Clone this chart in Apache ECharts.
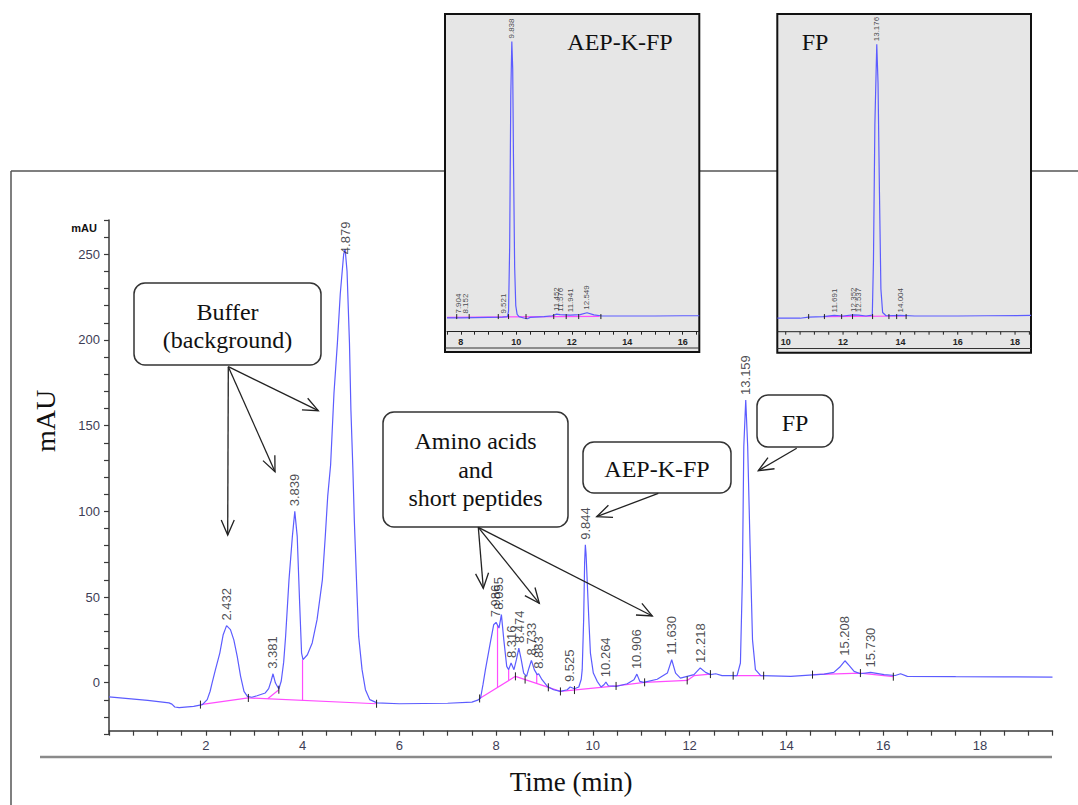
<!DOCTYPE html>
<html><head><meta charset="utf-8">
<script src="https://cdn.jsdelivr.net/npm/echarts@6/dist/echarts.min.js"></script>
<style>html,body{margin:0;padding:0;background:#fff}#c{width:1078px;height:805px}</style>
</head><body><div id="c"></div>
<script>
// ================= DATA =================
// main chromatogram: [time (min), signal (mAU)]
const mainTrace = [
 [0,-8.3],[0.4,-9.3],[0.8,-10.3],[1.24,-11.8],[1.30,-12.5],[1.36,-14.2],[1.45,-14.6],[1.75,-13.8],[1.93,-12.8],
 [2.03,-9.9],[2.09,-5],[2.13,-0.2],[2.2,7.6],[2.29,17.3],[2.36,28],[2.43,33.3],[2.51,31],[2.58,25],[2.65,15.3],
 [2.72,3.7],[2.79,-5.1],[2.86,-8.0],[2.95,-8.5],[3.06,-7.6],[3.23,-6],[3.30,-3.5],[3.35,1],[3.39,5.2],[3.44,-0.2],
 [3.51,-3.7],[3.56,1],[3.61,12],[3.65,27],[3.72,60],[3.79,85.4],[3.84,100],[3.89,85.4],[3.94,46.5],[3.98,17.3],
 [4.01,13.4],[4.10,16.3],[4.2,23.2],[4.30,36.8],[4.41,60],[4.47,85.4],[4.52,108.7],[4.58,127],[4.65,169],[4.72,198],
 [4.78,227],[4.85,250],[4.88,253],[4.92,240],[4.97,198],[5.0,159],[5.04,125],[5.07,95],[5.12,56],[5.16,27],
 [5.23,7.6],[5.30,-4.1],[5.39,-9.9],[5.54,-11.8],[6.0,-12.3],[7.0,-12.0],[7.5,-11.3],[7.62,-10.2],[7.68,-8.9],
 [7.73,-1],[7.78,7.6],[7.88,23.2],[7.95,33.8],[8.0,35.2],[8.06,31.9],[8.11,39.7],[8.16,25],[8.22,9.5],[8.26,7.6],
 [8.31,11.5],[8.37,7.6],[8.42,13.4],[8.47,20.2],[8.52,13.4],[8.57,5.6],[8.63,3.7],[8.68,8.6],[8.73,13],[8.79,7.6],
 [8.85,4.7],[8.88,5.2],[8.95,1.75],[9.06,-2.2],[9.19,-4.1],[9.33,-5.1],[9.47,-4.1],[9.53,-2.5],[9.62,-3.5],
 [9.71,-2.5],[9.76,2],[9.78,7.6],[9.81,36.8],[9.83,70],[9.845,80.5],[9.86,75],[9.89,55],[9.92,35],[9.95,17.3],
 [10.01,5.6],[10.09,0.8],[10.17,-2.5],[10.23,-1.2],[10.27,0.3],[10.32,-1.8],[10.5,-2.1],[10.71,-0.6],[10.85,1.75],
 [10.91,5],[10.97,0.8],[11.05,0.2],[11.33,2],[11.54,5.6],[11.63,13.4],[11.71,5.6],[11.81,2.7],[12.09,4.7],
 [12.22,8.6],[12.33,6],[12.43,4.7],[12.54,5.2],[12.67,4.1],[12.98,4.1],[13.05,11.5],[13.09,60],[13.12,138],
 [13.16,165],[13.2,138],[13.25,79.5],[13.3,25],[13.36,7.6],[13.47,4.1],[14.09,3.7],[14.78,5],[14.98,6],[15.1,9],
 [15.21,12.8],[15.3,10],[15.40,6.6],[15.53,5.2],[15.74,6],[16.02,4.7],[16.25,4.2],[16.36,5.2],[16.5,3.7],
 [17.5,3.5],[18.5,3.4],[19.5,3.3]
];
// integration baselines (pink)
const baseSeg1 = [[1.89,-12.8],[2.88,-8.9]];
const baseSeg2 = [[2.88,-8.9],[5.53,-12.3]];
const baseSeg3 = [[3.28,-9.4],[3.51,-4.1]];
const baseSeg4 = [[7.66,-9.2],[8.40,3.7],[9.33,-5.1]];
const baseSeg5 = [[9.33,-5.1],[10.48,-1.9],[11.07,0.2],[11.95,1.3],[12.09,4.1],[12.43,5.0]];
const baseSeg6 = [[12.9,4.1],[13.53,4.1]];
const baseSeg7 = [[14.54,4.7],[15.53,5.6],[16.21,3.5]];
// drop lines: time, baseline level, signal level
const dropTimes = [4.0, 8.03, 8.26, 8.84];
const dropLow   = [-10.3, -2.6, 1.5, -0.5];
const dropHigh  = [13.4, 33.5, 7.8, 5.0];
// integration event ticks: [time, level]
const eventTicks = [[1.89,-12.8],[2.88,-8.9],[3.51,-4.1],[5.53,-12.3],[7.66,-9.2],[8.40,3.7],[8.6,1.8],[9.08,-2.7],
 [9.33,-5.1],[9.62,-4.3],[10.48,-1.9],[11.07,0.2],[11.95,1.3],[12.43,5.0],[12.9,4.1],[13.53,4.1],[14.54,4.7],
 [15.53,5.6],[16.21,3.5]];
// peak labels
const peakNames   = ['2.432','3.381','3.839','4.879','7.986','8.055','8.316','8.474','8.733','8.883','9.525','9.844','10.264','10.906','11.630','12.218','13.159','15.208','15.730'];
const peakHeights = [33.3, 5.2, 100, 253, 35.2, 39.7, 11.5, 20.2, 13, 5.2, -2.5, 80.5, 0.3, 5, 13.4, 8.6, 165, 12.8, 6];

// inset 1 (AEP-K-FP) relative signal
const inset1Trace = [[7.5,-0.5],[8.0,-0.5],[8.5,-0.4],[9.0,-0.3],[9.5,-0.2],[9.68,0],[9.72,2],[9.76,25],[9.80,80],
 [9.838,100],[9.87,90],[9.9,55],[9.94,18],[9.98,4],[10.03,0.8],[10.1,0],[10.3,-0.6],[10.4,-0.8],[10.5,-0.3],[11.0,0],
 [11.3,0.3],[11.45,0.9],[11.58,0.7],[11.94,0.5],[12.3,0.7],[12.55,1.4],[12.8,0.6],[13.1,0.2],[14,0.2],[15,0.2],
 [16,0.3],[16.6,0.3]];
const inset1Base = [[7.5,-0.3],[13.0,0.1]];
const inset1Ticks = [7.85, 8.3, 9.35, 9.72, 10.35, 11.35, 11.8, 12.25, 13.05];
const inset1Names = ['7.904','8.152','9.521','9.838','11.452','11.576','11.941','12.549'];
const inset1Heights = [0, 0, 0, 100, 0.9, 0.7, 0.5, 1.4];
// inset 2 (FP) relative signal
const inset2Trace = [[9.71,-0.6],[10.5,-0.6],[10.8,-0.2],[11.3,0],[11.69,0.4],[12.0,0.2],[12.35,0.6],[12.54,0.5],
 [12.8,0.2],[13.02,0.5],[13.06,20],[13.11,70],[13.176,99],[13.22,85],[13.27,45],[13.32,10],[13.38,1.5],[13.5,0.3],
 [14.0,0.4],[14.5,0.2],[16.0,0.2],[17.0,0.3],[18.56,0.4]];
const inset2Base = [[11.3,0],[14.2,0.2]];
const inset2Ticks = [10.8, 11.35, 11.95, 12.33, 13.03, 13.6, 13.87, 14.2];
const inset2Names = ['11.691','12.352','12.537','13.176','14.004'];
const inset2Heights = [0.4, 0.6, 0.5, 99, 0.4];
const inset2AxisTicks = [10,10.5,11,11.5,12,12.5,13,13.5,14,14.5,15,15.5,16,16.5,17,17.5,18,18.5];

// ================= CHART =================
const BLUE = '#5c5cff', PINK = '#ff4cff';
const chart = echarts.init(document.getElementById('c'), null, {renderer: 'svg'});

function tickSeries(xi, yi, pts, up, down) {
  return {type: 'custom', xAxisIndex: xi, yAxisIndex: yi, data: pts, silent: true, z: 4,
    renderItem: function (params, api) {
      const p = api.coord([api.value(0), api.value(1)]);
      return {type: 'line', shape: {x1: p[0], y1: p[1] - up, x2: p[0], y2: p[1] + down},
        style: {stroke: '#222', lineWidth: 1}};
    }};
}
function lineSeries(xi, yi, data, color, width, z) {
  return {type: 'line', xAxisIndex: xi, yAxisIndex: yi, data: data, showSymbol: false, symbol: 'none',
    lineStyle: {color: color, width: width}, silent: true, z: z, animation: false};
}
function labelSeries(xi, yi, names, times, heights, size, dist, lift) {
  return {type: 'scatter', xAxisIndex: xi, yAxisIndex: yi, symbolSize: 0, silent: true, z: 6,
    data: names.map((n, i) => {
      const item = {value: [times ? times[i] : parseFloat(n), heights[i]], name: n};
      if (lift && lift[n] !== undefined) item.label = {offset: [-lift[n], 0]};
      return item;
    }),
    label: {show: true, position: 'top', distance: dist, rotate: 90, align: 'left', verticalAlign: 'middle',
      formatter: p => p.name, fontFamily: '"Liberation Sans", Arial', fontSize: size, color: '#1c1c28'}};
}

const series = [];
series.push(lineSeries(0, 0, mainTrace, BLUE, 1.2, 3));
[baseSeg1, baseSeg2, baseSeg3, baseSeg4, baseSeg5, baseSeg6, baseSeg7].forEach(s => series.push(lineSeries(0, 0, s, PINK, 1.2, 2)));
dropTimes.forEach((t, i) => series.push(lineSeries(0, 0, [[t, dropLow[i]], [t, dropHigh[i]]], PINK, 1.2, 2)));
series.push(tickSeries(0, 0, eventTicks, 4, 4));
series.push(labelSeries(0, 0, peakNames, null, peakHeights, 13, 5, {'4.879': 10}));
// insets
series.push(lineSeries(1, 1, inset1Base, PINK, 1.2, 2));
series.push(lineSeries(1, 1, inset1Trace, BLUE, 1.2, 3));
series.push(tickSeries(1, 1, inset1Ticks.map(t => [t, 0]), 2.5, 2.5));
series.push(labelSeries(1, 1, inset1Names, null, inset1Heights, 8, 3));
series.push(lineSeries(2, 2, inset2Base, PINK, 1.2, 2));
series.push(lineSeries(2, 2, inset2Trace, BLUE, 1.2, 3));
series.push(tickSeries(2, 2, inset2Ticks.map(t => [t, 0]), 2.5, 2.5));
series.push(tickSeries(2, 2, inset2AxisTicks.map(t => [t, -5.5]), 0, 3));
series.push(labelSeries(2, 2, inset2Names, null, inset2Heights, 8, 3));

const tickLabelFont = '"Liberation Sans", Arial';
const mainAxisColor = '#3a3a3a';

// annotation helpers
function arrow(x1, y1, x2, y2) {
  const dx = x2 - x1, dy = y2 - y1, L = Math.hypot(dx, dy), ux = dx / L, uy = dy / L;
  const a = 15, w = 6.5, bx = x2 - ux * a, by = y2 - uy * a;
  return [
    {type: 'line', z: 20, shape: {x1: x1, y1: y1, x2: x2, y2: y2}, style: {stroke: '#222', lineWidth: 1.3}},
    {type: 'polyline', z: 20, shape: {points: [[bx - uy * w, by + ux * w], [x2, y2], [bx + uy * w, by - ux * w]]},
      style: {stroke: '#222', fill: null, lineWidth: 1.3}}
  ];
}
function box(x, y, w, h) {
  return {type: 'rect', z: 20, shape: {x: x, y: y, width: w, height: h, r: 11},
    style: {fill: '#fff', stroke: '#333', lineWidth: 1.5}};
}
function serifText(str, x, y, size, rot) {
  const el = {type: 'text', z: 21, x: x, y: y,
    style: {text: str, font: size + 'px "Liberation Serif", "Times New Roman", serif', fill: '#111',
      align: 'center', verticalAlign: 'middle'}};
  if (rot) el.rotation = rot;
  return el;
}

const graphics = [
  // outer frame & bottom rule
  {type: 'line', z: -10, shape: {x1: 11, y1: 171, x2: 1078, y2: 171}, style: {stroke: '#555', lineWidth: 1.5}},
  {type: 'line', z: -10, shape: {x1: 11, y1: 171, x2: 11, y2: 805}, style: {stroke: '#555', lineWidth: 1.5}},
  {type: 'line', z: -10, shape: {x1: 40, y1: 757, x2: 1052, y2: 757}, style: {stroke: '#8a8a8a', lineWidth: 2.5}},
  // inset panels
  {type: 'rect', z: -5, shape: {x: 445, y: 14, width: 254.3, height: 338}, style: {fill: '#e6e6e6', stroke: '#111', lineWidth: 2}},
  {type: 'line', z: -4, shape: {x1: 445, y1: 348, x2: 699.3, y2: 348}, style: {stroke: '#333', lineWidth: 1}},
  {type: 'rect', z: -5, shape: {x: 777.3, y: 14, width: 253.7, height: 338.7}, style: {fill: '#e6e6e6', stroke: '#111', lineWidth: 2}},
  {type: 'line', z: -4, shape: {x1: 777.3, y1: 348.5, x2: 1031, y2: 348.5}, style: {stroke: '#333', lineWidth: 1}},
  {type: 'line', z: -4, shape: {x1: 777.3, y1: 331.7, x2: 1031, y2: 331.7}, style: {stroke: '#222', lineWidth: 1}},
  serifText('AEP-K-FP', 620, 42, 24),
  serifText('FP', 815, 42, 24),
  // axis titles
  serifText('mAU', 45, 421, 28, Math.PI / 2),
  serifText('Time (min)', 571, 782, 27),
  // annotation boxes
  box(134, 283, 187, 82), serifText('Buffer', 227.5, 312, 24), serifText('(background)', 227.5, 340, 24),
  box(383, 412, 185, 115), serifText('Amino acids', 475.5, 441, 24), serifText('and', 475.5, 470, 24), serifText('short peptides', 475.5, 498, 24),
  box(583, 442, 148, 51), serifText('AEP-K-FP', 657, 469, 24),
  box(757, 395, 76, 52), serifText('FP', 795, 422.5, 24)
].concat(
  arrow(228.3, 366.7, 227.7, 535), arrow(228.3, 366.7, 275, 471.7), arrow(228.3, 366.7, 318.3, 410.7),
  arrow(478.3, 527.3, 483.3, 588.3), arrow(478.3, 527.3, 539.3, 603.3), arrow(478.3, 527.3, 652.3, 616),
  arrow(658.3, 493.3, 596.7, 516.7), arrow(796.7, 448.3, 758.3, 470.7)
);

const option = {
  animation: false,
  backgroundColor: '#fff',
  grid: [
    {left: 109, top: 220, width: 943.5, height: 514.1},
    {left: 447, top: 14, width: 252.3, height: 317.7},
    {left: 771.4, top: 14, width: 259.7, height: 317.7}
  ],
  xAxis: [
    {gridIndex: 0, type: 'value', min: 0, max: 19.5, interval: 0.5, offset: -3.4,
      axisLine: {onZero: false, lineStyle: {color: mainAxisColor, width: 1.5}},
      axisTick: {length: 5, lineStyle: {color: mainAxisColor, width: 1.2}},
      axisLabel: {margin: 8, fontSize: 13, fontFamily: tickLabelFont, color: '#3d3d55',
        formatter: v => (v > 0 && Math.abs(v % 2) < 1e-9) ? String(v) : ''},
      splitLine: {show: false}},
    {gridIndex: 1, type: 'value', min: 7.5, max: 16.6, interval: 0.5,
      axisLine: {onZero: false, lineStyle: {color: '#222', width: 1}},
      axisTick: {length: 3, lineStyle: {color: '#222'}},
      axisLabel: {margin: 6, fontSize: 9, fontWeight: 'bold', fontFamily: tickLabelFont, color: '#222',
        formatter: v => (Math.abs(v % 2) < 1e-9) ? String(v) : ''},
      splitLine: {show: false}},
    {gridIndex: 2, type: 'value', min: 9.5, max: 18.56, interval: 0.5,
      axisLine: {show: false},
      axisTick: {show: false},
      axisLabel: {margin: 6, fontSize: 9, fontWeight: 'bold', fontFamily: tickLabelFont, color: '#222',
        formatter: v => (Math.abs(v % 2) < 1e-9) ? String(v) : ''},
      splitLine: {show: false}}
  ],
  yAxis: [
    {gridIndex: 0, type: 'value', min: -30, max: 270, interval: 10,
      name: 'mAU', nameLocation: 'end', nameGap: -8,
      nameTextStyle: {align: 'right', verticalAlign: 'middle', padding: [0, 12, 0, 0], fontSize: 11,
        fontWeight: 'bold', fontFamily: tickLabelFont, color: '#111'},
      axisLine: {onZero: false, lineStyle: {color: mainAxisColor, width: 1.5}},
      axisTick: {length: 5, lineStyle: {color: mainAxisColor, width: 1.2}},
      axisLabel: {margin: 9, fontSize: 13, fontFamily: tickLabelFont, color: '#3d3d55',
        formatter: v => (v >= 0 && v % 50 === 0) ? String(v) : ''},
      splitLine: {show: false}},
    {gridIndex: 1, type: 'value', min: -5.5, max: 110, show: false},
    {gridIndex: 2, type: 'value', min: -5.5, max: 110, show: false}
  ],
  graphic: graphics,
  series: series
};
chart.setOption(option);
</script>
</body></html>
